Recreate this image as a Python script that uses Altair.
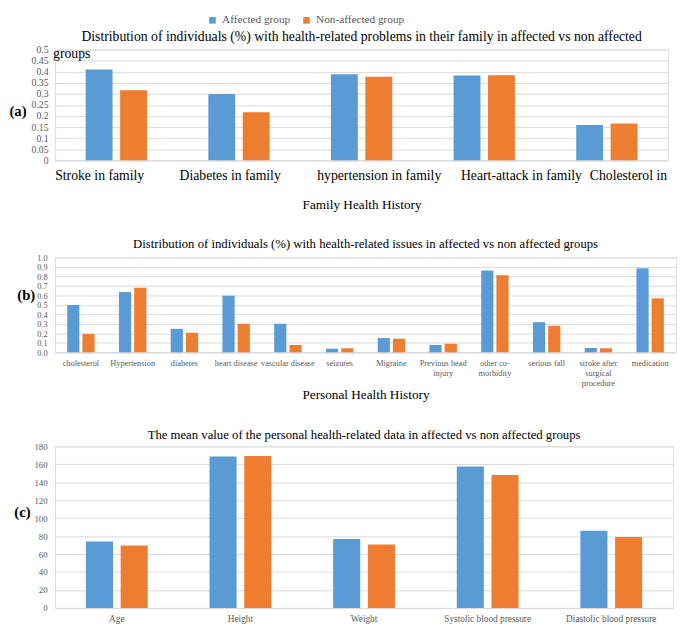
import altair as alt
import pandas as pd

FONT = "Liberation Serif"
BLUE = "#5B9BD5"
ORANGE = "#ED7D31"
GRID = "#d9d9d9"
LABEL = "#595959"

groups = ["Affected group", "Non-affected group"]

# Panel (a) Family health history
fam_cats = ["Stroke in family", "Diabetes in family", "hypertension in family",
            "Heart-attack in family", "Cholesterol in"]
fam_aff = [0.41, 0.30, 0.389, 0.383, 0.16]
fam_non = [0.316, 0.217, 0.378, 0.384, 0.166]
fam_ticks = [0, 0.05, 0.1, 0.15, 0.2, 0.25, 0.3, 0.35, 0.4, 0.45, 0.5]
# horizontal label shifts seen in the reference (labels not centred under bars)
fam_label_shift = [-17, -9, 18, 38, 22]

# Panel (b) Personal health history
pers_cats = ["cholesterol", "Hypertension", "diabetes", "heart disease",
             "vascular disease", "seizures", "Migraine", "Previous head\ninjury",
             "other co-\nmorbidity", "serious fall",
             "stroke after\nsurgical\nprocedure", "medication"]
pers_aff = [0.498, 0.634, 0.247, 0.596, 0.30, 0.038, 0.15, 0.077, 0.861, 0.317, 0.045, 0.885]
pers_non = [0.195, 0.679, 0.206, 0.30, 0.077, 0.042, 0.143, 0.09, 0.812, 0.279, 0.042, 0.568]
pers_ticks = [0.0, 0.1, 0.2, 0.3, 0.4, 0.5, 0.6, 0.7, 0.8, 0.9, 1.0]

# Panel (c) Mean values
mean_cats = ["Age", "Height", "Weight", "Systolic blood pressure", "Diastolic blood pressure"]
mean_aff = [74.0, 168.6, 76.9, 157.5, 86.1]
mean_non = [69.6, 169.3, 70.7, 148.0, 79.1]
mean_ticks = [0, 20, 40, 60, 80, 100, 120, 140, 160, 180]

title_a = ("Distribution of individuals (%) with health-related problems in their "
           "family in affected vs non affected")
title_b = ("Distribution of individuals (%) with health-related issues in affected "
           "vs non affected groups")
title_c = "The mean value of the personal health-related data in affected vs non affected groups"


def to_long(cats, aff, non):
    rows = []
    for c, va, vn in zip(cats, aff, non):
        rows.append({"cat": c, "group": groups[0], "value": va})
        rows.append({"cat": c, "group": groups[1], "value": vn})
    return pd.DataFrame(rows)


legend = alt.Legend(title=None, orient="none", legendX=155, legendY=-36, padding=0,
                    direction="horizontal", symbolType="square", symbolSize=45,
                    symbolStrokeWidth=0, labelFont=FONT, labelFontSize=11.5,
                    labelColor=LABEL, columnPadding=10)
color = alt.Color("group:N", scale=alt.Scale(domain=groups, range=[BLUE, ORANGE]),
                  legend=legend)


def panel(df, cats, pi, opi, ydom, yvals, yfmt, ylabel, title_x, title_y,
          ylab_pad, ylab_size, xaxis, width, height, title, title_size, title_offset):
    bars = alt.Chart(df).mark_bar().encode(
        x=alt.X("cat:N", sort=cats,
                scale=alt.Scale(paddingInner=pi, paddingOuter=pi / 2),
                axis=xaxis),
        xOffset=alt.XOffset("group:N", sort=groups, scale=alt.Scale(paddingInner=opi)),
        y=alt.Y("value:Q", scale=alt.Scale(domain=ydom, nice=False, zero=True),
                axis=alt.Axis(values=yvals, format=yfmt, title=ylabel, titleAngle=0,
                              titleAlign="left", titleBaseline="middle",
                              titleX=title_x, titleY=title_y, titleFont=FONT,
                              titleFontSize=15, titleFontWeight="bold",
                              titleColor="#000", domain=False, ticks=False,
                              labelOverlap=False, labelPadding=ylab_pad,
                              labelFont=FONT, labelFontSize=ylab_size,
                              labelColor=LABEL, gridColor=GRID)),
        color=color,
    )
    return bars, dict(width=width, height=height,
                      title=alt.TitleParams(text=title, font=FONT, fontSize=title_size,
                                            fontWeight="normal", color="#000",
                                            offset=title_offset, anchor="middle"))


shift_cond = {
    "condition": [{"test": f"datum.value === '{c}'", "value": s}
                  for c, s in zip(fam_cats, fam_label_shift)],
    "value": 0,
}
xaxis_a = alt.Axis(title="Family Health History", labelAngle=0, labelFontSize=14,
                   labelColor="#000", labelFont=FONT, labelPadding=9, ticks=False,
                   domainColor=GRID, titleFont=FONT, titleFontSize=13.5,
                   titleFontWeight="normal", titleColor="#000", titlePadding=15,
                   labelLimit=300, labelOffset=shift_cond)
bars_a, props_a = panel(to_long(fam_cats, fam_aff, fam_non), fam_cats, 0.5, 0.22,
                        [0, 0.5], fam_ticks, "~g", "(a)", -47, 62, 7, 10, xaxis_a,
                        626, 113, title_a, 14, 1)
note_a = alt.Chart(pd.DataFrame({"t": ["groups"]})).mark_text(
    align="left", baseline="middle", font=FONT, fontSize=14, color="#000"
).encode(text="t:N", x=alt.value(-2), y=alt.value(5))
chart_a = alt.layer(bars_a, note_a).properties(**props_a)

xaxis_b = alt.Axis(title="Personal Health History", labelAngle=0, labelFontSize=8.5,
                   labelColor=LABEL, labelFont=FONT, labelPadding=6, ticks=False,
                   domainColor=GRID, titleFont=FONT, titleFontSize=13.5,
                   titleFontWeight="normal", titleColor="#000", titlePadding=1,
                   labelLimit=300, labelLineHeight=10.5,
                   labelExpr="split(datum.label, '\\n')")
bars_b, props_b = panel(to_long(pers_cats, pers_aff, pers_non), pers_cats, 0.47, 0.2,
                        [0, 1], pers_ticks, ".1f", "(b)", -39, 38, 8, 8.5, xaxis_b,
                        634, 97, title_b, 13, 2)
chart_b = bars_b.properties(**props_b)

xaxis_c = alt.Axis(title=None, labelAngle=0, labelFontSize=9.5, labelColor=LABEL,
                   labelFont=FONT, labelPadding=6, ticks=False, domainColor=GRID,
                   labelLimit=300)
bars_c, props_c = panel(to_long(mean_cats, mean_aff, mean_non), mean_cats, 0.5, 0.22,
                        [0, 180], mean_ticks, "d", "(c)", -42, 67, 8, 9, xaxis_c,
                        631, 165, title_c, 13, 0)
chart_c = bars_c.properties(**props_c)

chart = alt.concat(chart_a, chart_b, chart_c, columns=1, align="none", spacing=27,
                   padding={"left": 0, "top": 0, "right": 0, "bottom": 0}
).resolve_scale(xOffset="independent", x="independent", y="independent"
).configure_view(stroke=None).configure(font=FONT)

chart.save("out.html", embed_options={"renderer": "svg", "actions": False})
